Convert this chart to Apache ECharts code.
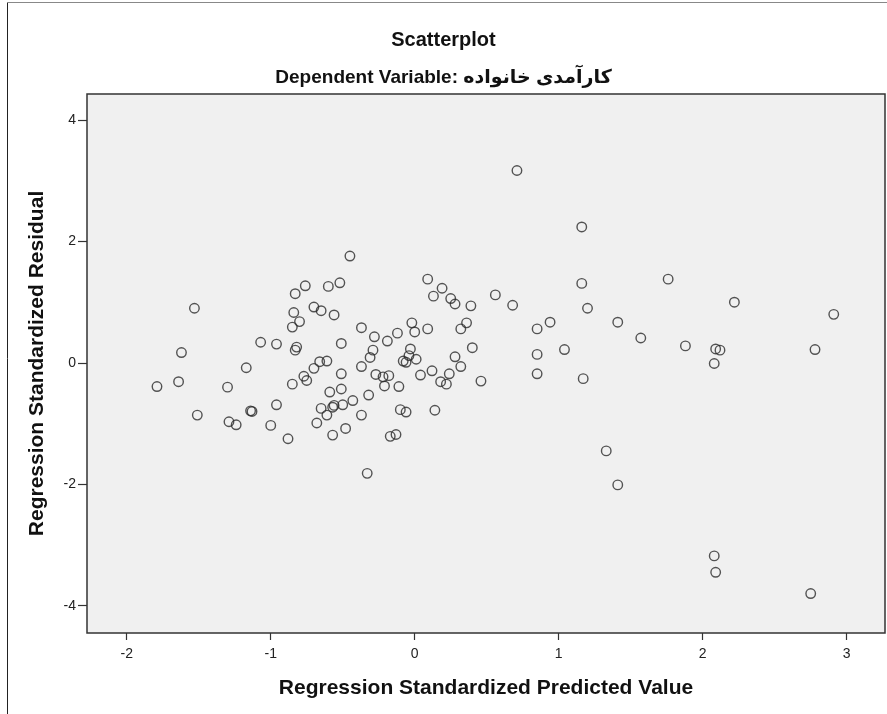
<!DOCTYPE html>
<html>
<head>
<meta charset="utf-8">
<script src="https://cdn.jsdelivr.net/npm/echarts@6/dist/echarts.min.js"></script>
<style>
  html, body { margin: 0; padding: 0; background: #fff; }
  #chart-container { width: 887px; height: 714px; }
</style>
</head>
<body>
<div id="chart-container"></div>
<script>
// Regression Standardized Predicted Value (x)
const predicted = [
  -0.45, -1.53, -1.62, -1.79, -1.64, -1.51, -1.30, -1.17, -1.29, -1.24,
  -1.14, -1.13, -1.07, -0.96, -0.96, -1.00, -0.88, -0.83, -0.76, -0.84,
  -0.80, -0.85, -0.82, -0.83, -0.70, -0.65, -0.60, -0.52, -0.56, -0.37,
  -0.28, -0.51, -0.29, -0.31, -0.37, -0.27, -0.66, -0.61, -0.70, -0.77,
  -0.75, -0.85, -0.51, -0.59, -0.51, -0.32, -0.65, -0.57, -0.56, -0.50,
  -0.43, -0.61, -0.68, -0.37, -0.57, -0.48,
  0.71, 1.16, 0.09, 0.19, 0.13, 0.25, 0.28, 0.39, 0.56, 0.68,
  1.16, 1.20, -0.19, -0.12, -0.02, 0.00, 0.09, 0.36, 0.32, 0.85,
  0.94, -0.03, -0.04, -0.08, -0.06, 0.01, 0.28, 0.40, 0.32, 0.24,
  0.12, 0.18, 0.22, 0.46, 0.04, -0.22, -0.18, -0.21, -0.11, -0.10,
  -0.06, 0.14, -0.17, -0.13, 0.85, 0.85, 1.04, 1.17,
  1.41, 1.76, 1.57, 1.88, 2.22, 2.09, 2.12, 2.08, 2.78, 2.91,
  -0.33, 1.33, 1.41, 2.08, 2.09, 2.75
];

// Regression Standardized Residual (y)
const residual = [
  1.76, 0.90, 0.17, -0.39, -0.31, -0.86, -0.40, -0.08, -0.97, -1.02,
  -0.79, -0.80, 0.34, 0.31, -0.69, -1.03, -1.25, 1.14, 1.27, 0.83,
  0.68, 0.59, 0.26, 0.21, 0.92, 0.86, 1.26, 1.32, 0.79, 0.58,
  0.43, 0.32, 0.21, 0.09, -0.06, -0.19, 0.02, 0.03, -0.09, -0.22,
  -0.29, -0.35, -0.18, -0.48, -0.43, -0.53, -0.75, -0.73, -0.70, -0.69,
  -0.62, -0.86, -0.99, -0.86, -1.19, -1.08,
  3.17, 2.24, 1.38, 1.23, 1.10, 1.06, 0.97, 0.94, 1.12, 0.95,
  1.31, 0.90, 0.36, 0.49, 0.66, 0.51, 0.56, 0.66, 0.56, 0.56,
  0.67, 0.23, 0.12, 0.03, 0.01, 0.06, 0.10, 0.25, -0.06, -0.18,
  -0.13, -0.31, -0.35, -0.30, -0.20, -0.23, -0.21, -0.38, -0.39, -0.77,
  -0.81, -0.78, -1.21, -1.18, 0.14, -0.18, 0.22, -0.26,
  0.67, 1.38, 0.41, 0.28, 1.00, 0.23, 0.21, -0.01, 0.22, 0.80,
  -1.82, -1.45, -2.01, -3.18, -3.45, -3.80
];

const xTicks = [-2, -1, 0, 1, 2, 3];
const yTicks = [-4, -2, 0, 2, 4];

const puntos = predicted.map((v, i) => [v, residual[i]]);

let myChart = echarts.init(document.getElementById('chart-container'), null, {
  renderer: 'canvas'
});

const fuente = '"Liberation Sans", Arial, "DejaVu Sans", sans-serif';

const opciones = {
  animation: false,
  backgroundColor: '#ffffff',
  title: [
    {
      text: 'Scatterplot',
      left: 'center',
      top: 25,
      textStyle: { fontFamily: fuente, fontSize: 20, fontWeight: 'bold', color: '#111' }
    },
    {
      text: 'Dependent Variable: کارآمدی خانواده',
      left: 'center',
      top: 63,
      textStyle: { fontFamily: fuente, fontSize: 19, fontWeight: 'bold', color: '#111' }
    }
  ],
  graphic: [
    { type: 'line', shape: { x1: 7.5, y1: 3, x2: 7.5, y2: 714 }, style: { stroke: '#222', lineWidth: 1 } },
    { type: 'line', shape: { x1: 7, y1: 2.5, x2: 887, y2: 2.5 }, style: { stroke: '#888', lineWidth: 1 } }
  ],
  grid: {
    left: 87,
    right: 2,
    top: 94,
    bottom: 81,
    show: true,
    backgroundColor: '#f0f0f0',
    borderColor: '#333',
    borderWidth: 1.5
  },
  xAxis: {
    type: 'value',
    min: -2.276,
    max: 3.266,
    name: 'Regression Standardized Predicted Value',
    nameLocation: 'middle',
    nameGap: 45,
    nameTextStyle: { fontFamily: fuente, fontSize: 21, fontWeight: 'bold', color: '#111' },
    axisLine: { show: false, onZero: false },
    axisTick: { show: true, length: 7, customValues: xTicks, lineStyle: { color: '#333', width: 1.2 } },
    axisLabel: { customValues: xTicks, margin: 14, fontFamily: fuente, fontSize: 14, color: '#222' },
    splitLine: { show: false }
  },
  yAxis: {
    type: 'value',
    min: -4.45,
    max: 4.43,
    name: 'Regression Standardized Residual',
    nameLocation: 'middle',
    nameGap: 39,
    nameTextStyle: { fontFamily: fuente, fontSize: 21, fontWeight: 'bold', color: '#111' },
    axisLine: { show: false, onZero: false },
    axisTick: { show: true, length: 9, customValues: yTicks, lineStyle: { color: '#333', width: 1.2 } },
    axisLabel: { customValues: yTicks, margin: 11, fontFamily: fuente, fontSize: 14, color: '#222' },
    splitLine: { show: false }
  },
  series: [{
    type: 'scatter',
    data: puntos,
    symbol: 'circle',
    symbolSize: 9.5,
    itemStyle: {
      color: 'rgba(0,0,0,0)',
      borderColor: '#2a2a2a',
      borderWidth: 1.4
    },
    emphasis: { disabled: true }
  }]
};

myChart.setOption(opciones, true);
window.addEventListener('resize', myChart.resize);
</script>
</body>
</html>
